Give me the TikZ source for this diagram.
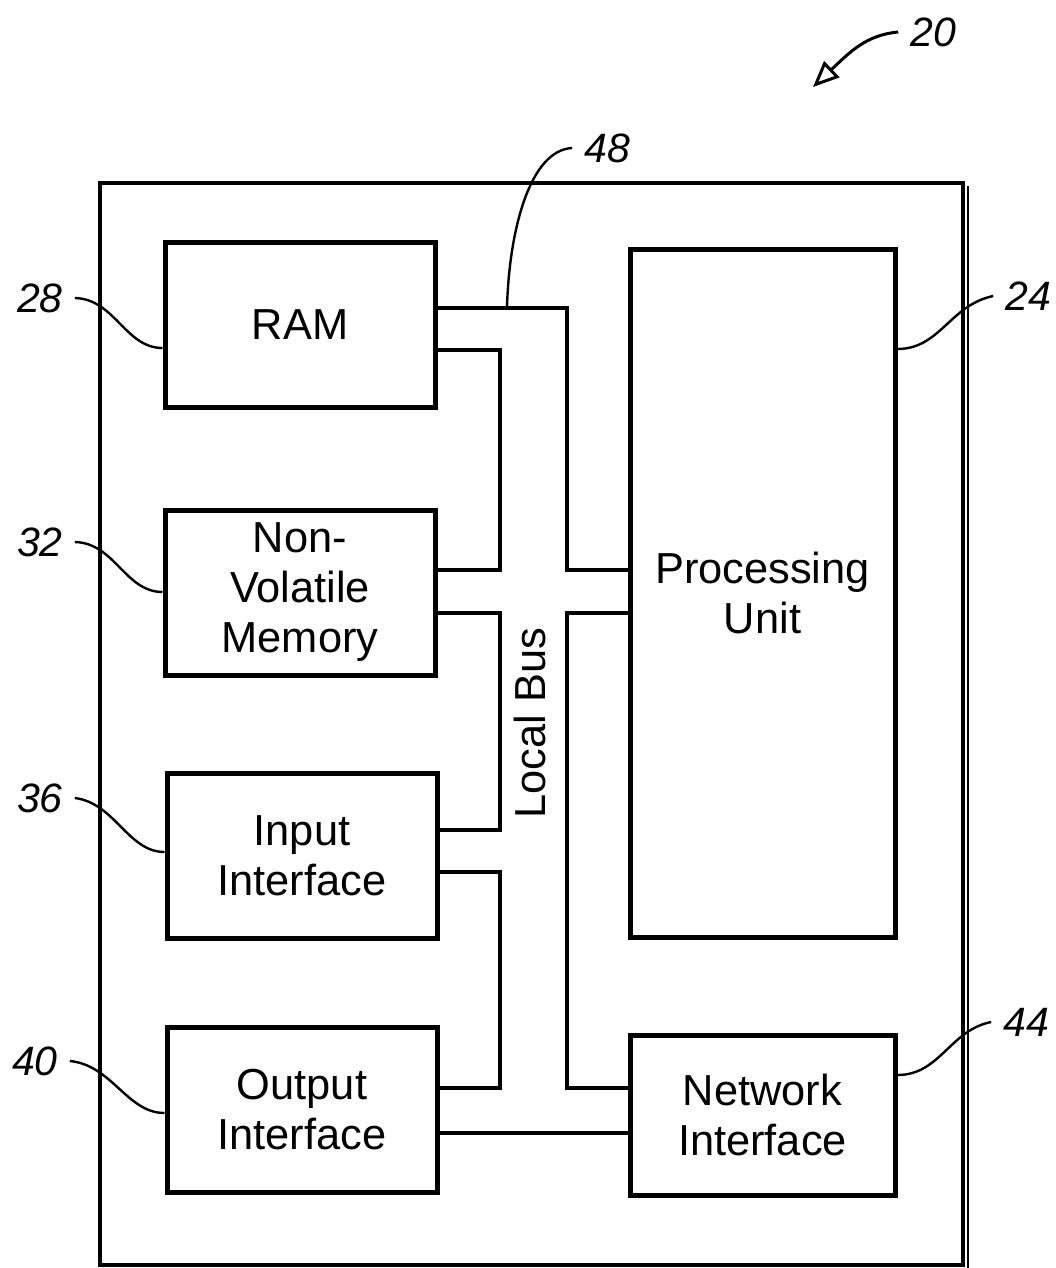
\documentclass[tikz,border=0pt]{standalone}
\usepackage{fontspec}
\setmainfont{Liberation Sans}
\usetikzlibrary{arrows.meta,positioning,calc}

\begin{document}
\begin{tikzpicture}[x=0.5pt, y=-0.5pt,
    unit/.style={draw, line width=2.5pt, minimum width=135pt, minimum height=82.5pt, align=center, font=\fontsize{21.7}{25}\selectfont},
    bus/.style={line width=2.4pt},
    lead/.style={line width=1.2pt},
    num/.style={font=\fontsize{20.5}{24}\selectfont\itshape, inner sep=0pt, outer sep=6pt}]
    \useasboundingbox (0,0) rectangle (1055,1268);
    \draw[line width=2.4pt] (100,183) rectangle (963,1265);
    \draw[line width=1.3pt] (968,186) -- (968,1268);

    \node[unit] (ram) at (300,324.5) {RAM};
    \node[unit] (nvm) at (300,592.5) {Non-\\Volatile\\Memory};
    \node[unit] (in) at (302,855.5) {Input\\Interface};
    \node[unit] (out) at (302,1109.5) {Output\\Interface};
    \node[unit, minimum width=132.5pt, minimum height=344pt] (pu) at (762.5,593) {Processing\\Unit};
    \node[unit, minimum width=132.5pt, minimum height=80pt] (net) at (762.5,1115) {Network\\Interface};
    \node[rotate=90, font=\fontsize{21.7}{25}\selectfont] (busname) at (530,723) {Local Bus};

    \draw[bus] (ram.east |- 0,308) -| (567,570) -- (pu.west |- 0,570);
    \draw[bus] (ram.east |- 0,350) -| (500,570) -- (nvm.east |- 0,570);
    \draw[bus] (nvm.east |- 0,613) -| (500,830) -- (in.east |- 0,830);
    \draw[bus] (pu.west |- 0,613) -| (567,1088) -- (net.west |- 0,1088);
    \draw[bus] (in.east |- 0,872) -| (500,1088) -- (out.east |- 0,1088);
    \draw[bus] (out.east |- 0,1133) -- (net.west |- 0,1133);
    \coordinate (tap) at (507,308);

    \node[num] (l28) at (40,298) {28};
    \node[num] (l32) at (40,542) {32};
    \node[num] (l36) at (40,798) {36};
    \node[num] (l40) at (35,1061) {40};
    \node[num] (l24) at (1028,296) {24};
    \node[num] (l44) at (1026,1022) {44};
    \node[num] (l48) at (607,148) {48};
    \node[num] (l20) at (933,32) {20};

    \draw[lead] (l28.east) .. controls (115,299) and (125,348) .. (ram.west |- 0,348);
    \draw[lead] (l32.east) .. controls (115,543) and (125,592) .. (nvm.west |- 0,592);
    \draw[lead] (l36.east) .. controls (115,803) and (128,852) .. (in.west |- 0,852);
    \draw[lead] (l40.east) .. controls (112,1065) and (127,1113) .. (out.west |- 0,1113);
    \draw[lead] (pu.east |- 0,349) .. controls (940,349) and (950,305) .. (l24.west);
    \draw[lead] (net.east |- 0,1075) .. controls (940,1075) and (950,1030) .. (l44.west);
    \draw[lead] (tap) .. controls (509,230) and (530,150) .. (l48.west);
    \draw[line width=1.5pt, -{Triangle[open, length=13pt, width=11pt]}] (l20.west) .. controls (866,35) and (850,52) .. (813,87);
\end{tikzpicture}
\end{document}
